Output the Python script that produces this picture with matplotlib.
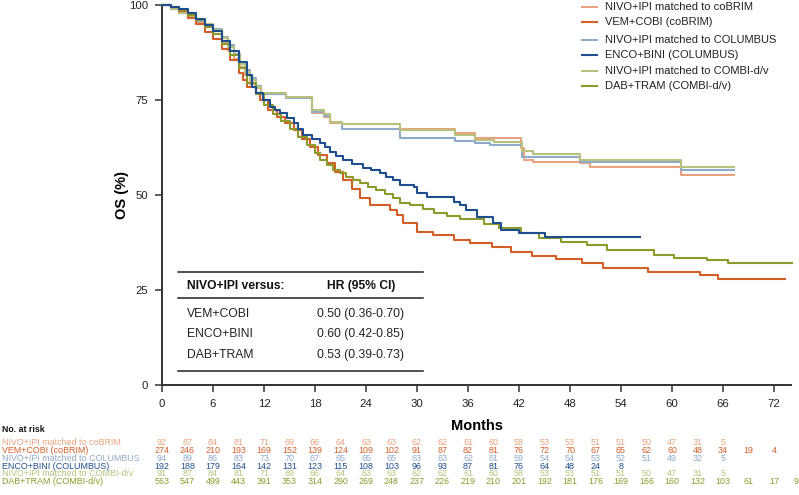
import matplotlib
matplotlib.use("Agg")
import matplotlib.pyplot as plt
from matplotlib.lines import Line2D
import matplotlib.transforms as mtransforms

plt.rcParams['font.family'] = ['Liberation Sans', 'DejaVu Sans']

# ---------------- data ----------------
nivo_cobrim_t = [0, 1, 2, 3, 4, 5, 6, 7, 7.8, 8.5, 9.2, 9.8, 10.4, 11.0, 11.6, 14.6, 17.6, 19.0, 19.8, 21.2,
                 28.0, 34.5, 36.8, 42.2, 42.6, 43.7, 49.2, 50.3, 61.0, 67.3]
nivo_cobrim_s = [100, 98.9, 97.8, 96.7, 95.6, 94.5, 92.3, 90.1, 88.0, 85.8, 83.6, 81.5, 79.3, 78.2, 76.6, 75.5, 71.5,
                 70.4, 69.0, 68.6, 67.5, 66.2, 64.9, 62.3, 59.2, 58.7, 58.3, 57.4, 55.3, 55.3]

nivo_columbus_t = [0, 1, 2, 3, 4, 5, 6, 7, 7.8, 8.5, 9.2, 9.8, 10.4, 11.0, 11.6, 14.6, 17.6, 19.0, 19.8, 21.2,
                   28.0, 34.5, 36.8, 38.6, 42.3, 49.2, 61.0, 67.3]
nivo_columbus_s = [100, 98.9, 97.9, 96.8, 95.7, 94.7, 93.6, 91.5, 89.4, 87.2, 85.1, 83.0, 80.9, 78.7, 76.6, 75.5, 71.9,
                   70.8, 69.2, 67.5, 65.1, 64.3, 63.6, 63.2, 60.1, 58.8, 56.7, 56.7]

nivo_combi_t = [0, 1, 2, 3, 4, 5, 6, 7, 7.8, 8.5, 9.2, 9.8, 10.4, 11.0, 11.6, 14.6, 17.6, 19.0, 19.8, 21.2,
                28.0, 34.5, 36.8, 39.0, 42.3, 43.7, 49.2, 61.0, 67.3]
nivo_combi_s = [100, 99.0, 98.0, 97.0, 96.0, 95.0, 93.4, 91.2, 89.0, 86.8, 84.6, 82.4, 80.2, 78.5, 76.9, 75.8, 72.5,
                71.4, 69.2, 68.7, 67.0, 65.8, 64.6, 64.0, 61.7, 60.7, 59.2, 57.3, 57.3]

vem_cobi_t = [0, 1, 2, 3, 4, 5, 6, 7, 8, 9, 9.5, 10, 11, 11.5, 12.5, 13.5, 14.5, 15.5, 16.5, 17.4, 18.4, 19.4,
              20.3, 21.3, 22.3, 23.3, 24.5, 26.8, 27.6, 28.4, 30.0, 31.9, 34.3, 36.2, 38.8, 41.0, 43.5, 46.4,
              49.4, 51.9, 57.2, 63.3, 65.4, 73.3]
vem_cobi_s = [100, 99.5, 98.5, 96.5, 95.0, 93.0, 91.0, 88.5, 85.5, 82.0, 80.3, 78.5, 76.5, 75.0, 72.5, 70.6, 69.0,
              67.1, 64.8, 62.7, 60.5, 58.3, 56.0, 53.9, 51.5, 49.1, 47.4, 46.0, 44.7, 42.6, 40.3, 39.5, 38.2, 37.3,
              36.4, 35.1, 34.0, 33.2, 32.0, 30.7, 29.7, 28.9, 27.8, 27.8]

enco_bini_t = [0, 1, 2, 3, 4, 5, 6, 7, 8, 9, 10, 10.6, 11.1, 11.9, 12.7, 13.3, 13.9, 14.7, 15.5, 16.0, 16.6,
               17.6, 18.6, 19.2, 19.8, 20.5, 21.3, 22.4, 23.6, 24.6, 25.6, 26.4, 27.2, 28.0, 29.6, 30.0, 31.2,
               34.3, 35.0, 35.8, 37.0, 38.9, 39.9, 42.0, 45.1, 56.2]
enco_bini_s = [100, 99.5, 99.0, 98.0, 96.4, 94.8, 93.2, 90.6, 88.0, 85.0, 81.5, 78.5, 76.8, 75.0, 73.2, 72.4, 71.5,
               70.2, 68.9, 67.3, 65.8, 64.8, 63.7, 62.5, 61.4, 60.3, 59.2, 58.2, 57.1, 56.5, 55.8, 54.8, 53.9,
               52.6, 52.2, 50.5, 49.6, 48.2, 47.4, 46.0, 44.3, 42.6, 40.8, 40.1, 39.0, 39.0]

dab_tram_t = [0, 1, 2, 3, 4, 5, 6, 7, 8, 9, 10, 11, 12, 13, 14, 15, 16, 17, 18, 18.6, 19.4, 20.1, 20.9, 21.7,
              22.5, 23.3, 24.2, 25.2, 26.2, 27.2, 28.0, 29.2, 30.7, 32.0, 33.5, 35.0, 37.9, 39.6, 42.2, 44.4,
              46.9, 50.0, 52.4, 57.9, 60.2, 64.1, 66.6, 74.1]
dab_tram_s = [100, 99.6, 98.8, 97.5, 96.0, 94.2, 92.3, 89.8, 86.8, 83.5, 79.5, 76.5, 73.8, 71.3, 69.5, 67.5, 65.3,
              63.2, 61.0, 59.2, 57.8, 56.6, 55.7, 54.8, 53.9, 53.1, 52.2, 51.3, 50.2, 49.1, 47.9, 47.4, 46.3, 45.2,
              44.5, 43.7, 42.4, 41.3, 40.0, 38.7, 37.7, 36.8, 35.5, 34.2, 33.3, 32.9, 32.2, 32.2]

series_labels = ["NIVO+IPI matched to coBRIM", "VEM+COBI (coBRIM)",
                 "NIVO+IPI matched to COLUMBUS", "ENCO+BINI (COLUMBUS)",
                 "NIVO+IPI matched to COMBI-d/v", "DAB+TRAM (COMBI-d/v)"]
colors = ["#E9A27E", "#D35F28", "#8FAACB", "#1F4E8E", "#B7C37C", "#8C9A2B"]

risk_times = list(range(0, 76, 3))
risk_nivo_cobrim = [92, 87, 84, 81, 71, 69, 66, 64, 63, 63, 62, 62, 61, 60, 58, 53, 53, 51, 51, 50, 47, 31, 5]
risk_vem_cobi = [274, 246, 210, 193, 169, 152, 139, 124, 109, 102, 91, 87, 82, 81, 76, 72, 70, 67, 65, 62, 60, 48, 34, 19, 4]
risk_nivo_columbus = [94, 89, 86, 83, 73, 70, 67, 65, 65, 65, 63, 63, 62, 61, 59, 54, 54, 53, 52, 51, 49, 32, 5]
risk_enco_bini = [192, 188, 179, 164, 142, 131, 123, 115, 108, 103, 96, 93, 87, 81, 76, 64, 48, 24, 8]
risk_nivo_combi = [91, 87, 84, 81, 71, 69, 66, 64, 63, 63, 62, 62, 61, 60, 58, 53, 53, 51, 51, 50, 47, 31, 5]
risk_dab_tram = [563, 547, 499, 443, 391, 353, 314, 290, 269, 248, 237, 226, 219, 210, 201, 192, 181, 176, 169,
                 166, 160, 132, 103, 61, 17, 9]

hr_rows = ["VEM+COBI", "ENCO+BINI", "DAB+TRAM"]
hr_values = ["0.50 (0.36-0.70)", "0.60 (0.42-0.85)", "0.53 (0.39-0.73)"]

x_ticks = list(range(0, 73, 6))
y_ticks = [0, 25, 50, 75, 100]

# ---------------- figure ----------------
W, H = 799, 495
fig = plt.figure(figsize=(W / 100, H / 100), dpi=100)


def fx(px):
    return px / W


def fy(py):
    return 1 - py / H


ax = fig.add_axes([fx(162), fy(385), fx(791) - fx(162), fy(5) - fy(385)])

curves = [
    (nivo_cobrim_t, nivo_cobrim_s),
    (vem_cobi_t, vem_cobi_s),
    (nivo_columbus_t, nivo_columbus_s),
    (enco_bini_t, enco_bini_s),
    (nivo_combi_t, nivo_combi_s),
    (dab_tram_t, dab_tram_s),
]
order = [0, 2, 4, 1, 5, 3]
for i in order:
    t, s = curves[i]
    ax.plot(t, s, drawstyle="steps-post", color=colors[i], lw=1.5, clip_on=False, zorder=3)

ax.set_xlim(0, 74)
ax.set_ylim(0, 100)
ax.set_xticks(x_ticks)
ax.set_yticks(y_ticks)
for sp in ["top", "right"]:
    ax.spines[sp].set_visible(False)
for sp in ["left", "bottom"]:
    ax.spines[sp].set_linewidth(1.4)
    ax.spines[sp].set_color("#333333")
ax.tick_params(axis="both", direction="out", length=5, width=1.1, color="#333333",
               labelsize=8.2, labelcolor="#222222", pad=5)
ax.set_xlabel("Months", fontsize=10.5, fontweight="bold", labelpad=7)
ax.set_ylabel("OS (%)", fontsize=10.5, fontweight="bold", labelpad=0)

# HR table inside the axes
x0, x1 = 1.9, 30.7
for yv in [29.8, 23.0, 3.7]:
    ax.plot([x0, x1], [yv, yv], color="#222222", lw=1.1, zorder=4)
ax.text(2.9, 26.1, "NIVO+IPI versus:", fontsize=8.7, fontweight="bold", ha="left", va="center", color="#111111")
ax.text(23.4, 26.1, "HR (95% CI)", fontsize=8.7, fontweight="bold", ha="center", va="center", color="#111111")
for yv, lab, val in zip([18.6, 13.3, 7.9], hr_rows, hr_values):
    ax.text(2.9, yv, lab, fontsize=8.7, ha="left", va="center", color="#222222")
    ax.text(23.4, yv, val, fontsize=8.7, ha="center", va="center", color="#222222")

# legend (manual)
leg_y = [7, 22, 40, 54.5, 71.5, 86]
for py, lab, c in zip(leg_y, series_labels, colors):
    fig.add_artist(Line2D([fx(582), fx(597)], [fy(py), fy(py)], color=c, lw=1.5, transform=fig.transFigure))
    fig.text(fx(605), fy(py), lab, fontsize=8, va="center", ha="left", color="#222222")

# number at risk
fig.text(fx(2), fy(430), "No. at risk", fontsize=6.3, fontweight="bold", va="center", ha="left", color="#111111")
blend = mtransforms.blended_transform_factory(ax.transData, fig.transFigure)
risk_rows = [risk_nivo_cobrim, risk_vem_cobi, risk_nivo_columbus, risk_enco_bini, risk_nivo_combi, risk_dab_tram]
row_y = [442.7, 450.7, 458.5, 466.2, 474.0, 481.8]
for lab, row, c, py in zip(series_labels, risk_rows, colors, row_y):
    fig.text(fx(2), fy(py), lab, fontsize=6.4, va="center", ha="left", color=c)
    for tm, n in zip(risk_times, row):
        xpos = min(tm, 74.55)  # keep the last label inside the canvas
        ax.text(xpos, fy(py), str(n), transform=blend, fontsize=6.4, va="center", ha="center", color=c,
                clip_on=False)

fig.savefig("out.png", dpi=100)
